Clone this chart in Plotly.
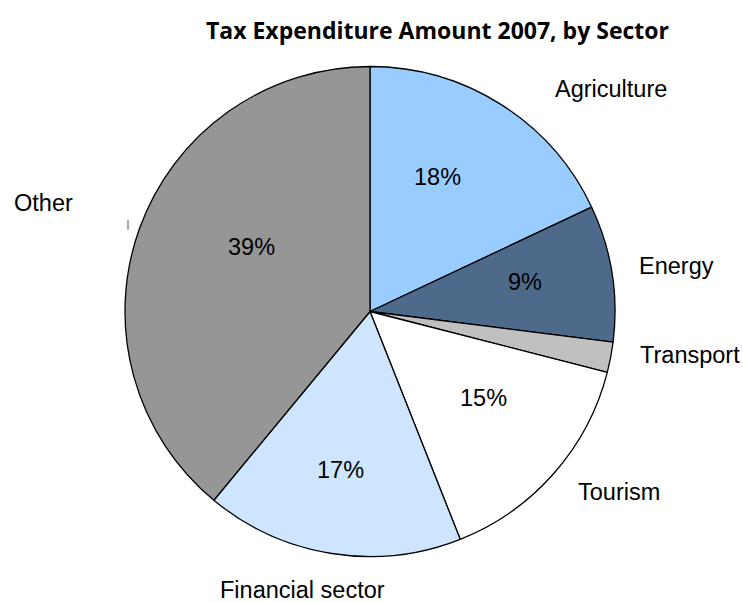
import plotly.graph_objects as go

# Sector shares of tax expenditure, 2007 (percent)
sectors = ["Agriculture", "Energy", "Transport", "Tourism", "Financial sector", "Other"]
shares = [18, 9, 2, 15, 17, 39]

slice_colors = ["#99CCFF", "#4E6A8A", "#C0C0C0", "#FFFFFF", "#CDE5FF", "#969696"]

W, H = 743, 603
CX, CY, R = 370, 311.5, 245  # pie centre / radius in pixels

# pixel anchors for the category names (left edge, vertical middle)
name_pos = {
    "Agriculture": (553, 89),
    "Energy": (637, 266),
    "Transport": (638, 355),
    "Tourism": (576, 492),
    "Financial sector": (218, 590),
    "Other": (12, 203),
}
# pixel centres for the percentage labels
pct_pos = {
    "Agriculture": (437, 177),
    "Energy": (525, 282),
    "Tourism": (483, 398),
    "Financial sector": (340, 470),
    "Other": (251, 247),
}

def px(x):
    return x / W

def py(y):
    return 1 - y / H

fig = go.Figure(
    go.Pie(
        labels=sectors,
        values=shares,
        sort=False,
        direction="clockwise",
        rotation=0,
        marker=dict(colors=slice_colors, line=dict(color="#000000", width=1.3)),
        textinfo="none",
        hoverinfo="label+percent",
        showlegend=False,
        domain=dict(x=[px(CX - R), px(CX + R)], y=[1 - (CY + R) / H, 1 - (CY - R) / H]),
    )
)

label_font = dict(family="Liberation Sans, Arial, sans-serif", size=23.5, color="#000000")
total = sum(shares)
annotations = []
for name, val in zip(sectors, shares):
    nx, ny = name_pos[name]
    annotations.append(dict(x=px(nx), y=py(ny), xref="paper", yref="paper",
                            text=name, showarrow=False, xanchor="left", yanchor="middle",
                            font=label_font))
    if name in pct_pos:
        tx, ty = pct_pos[name]
        annotations.append(dict(x=px(tx), y=py(ty), xref="paper", yref="paper",
                                text=f"{round(100 * val / total)}%", showarrow=False,
                                xanchor="center", yanchor="middle", font=label_font))

annotations.append(dict(x=px(437.5), y=py(30), xref="paper", yref="paper",
                        text="<b>Tax Expenditure Amount 2007, by Sector</b>", showarrow=False,
                        xanchor="center", yanchor="middle",
                        font=dict(family="Open Sans, sans-serif", size=23, color="#000000")))

fig.update_layout(
    width=W,
    height=H,
    margin=dict(l=0, r=0, t=0, b=0),
    paper_bgcolor="#FFFFFF",
    plot_bgcolor="#FFFFFF",
    annotations=annotations,
    shapes=[dict(type="line", xref="paper", yref="paper",
                 x0=px(128), x1=px(128), y0=py(220), y1=py(230),
                 line=dict(color="#555555", width=1))],
)

fig.write_html("out.html")
